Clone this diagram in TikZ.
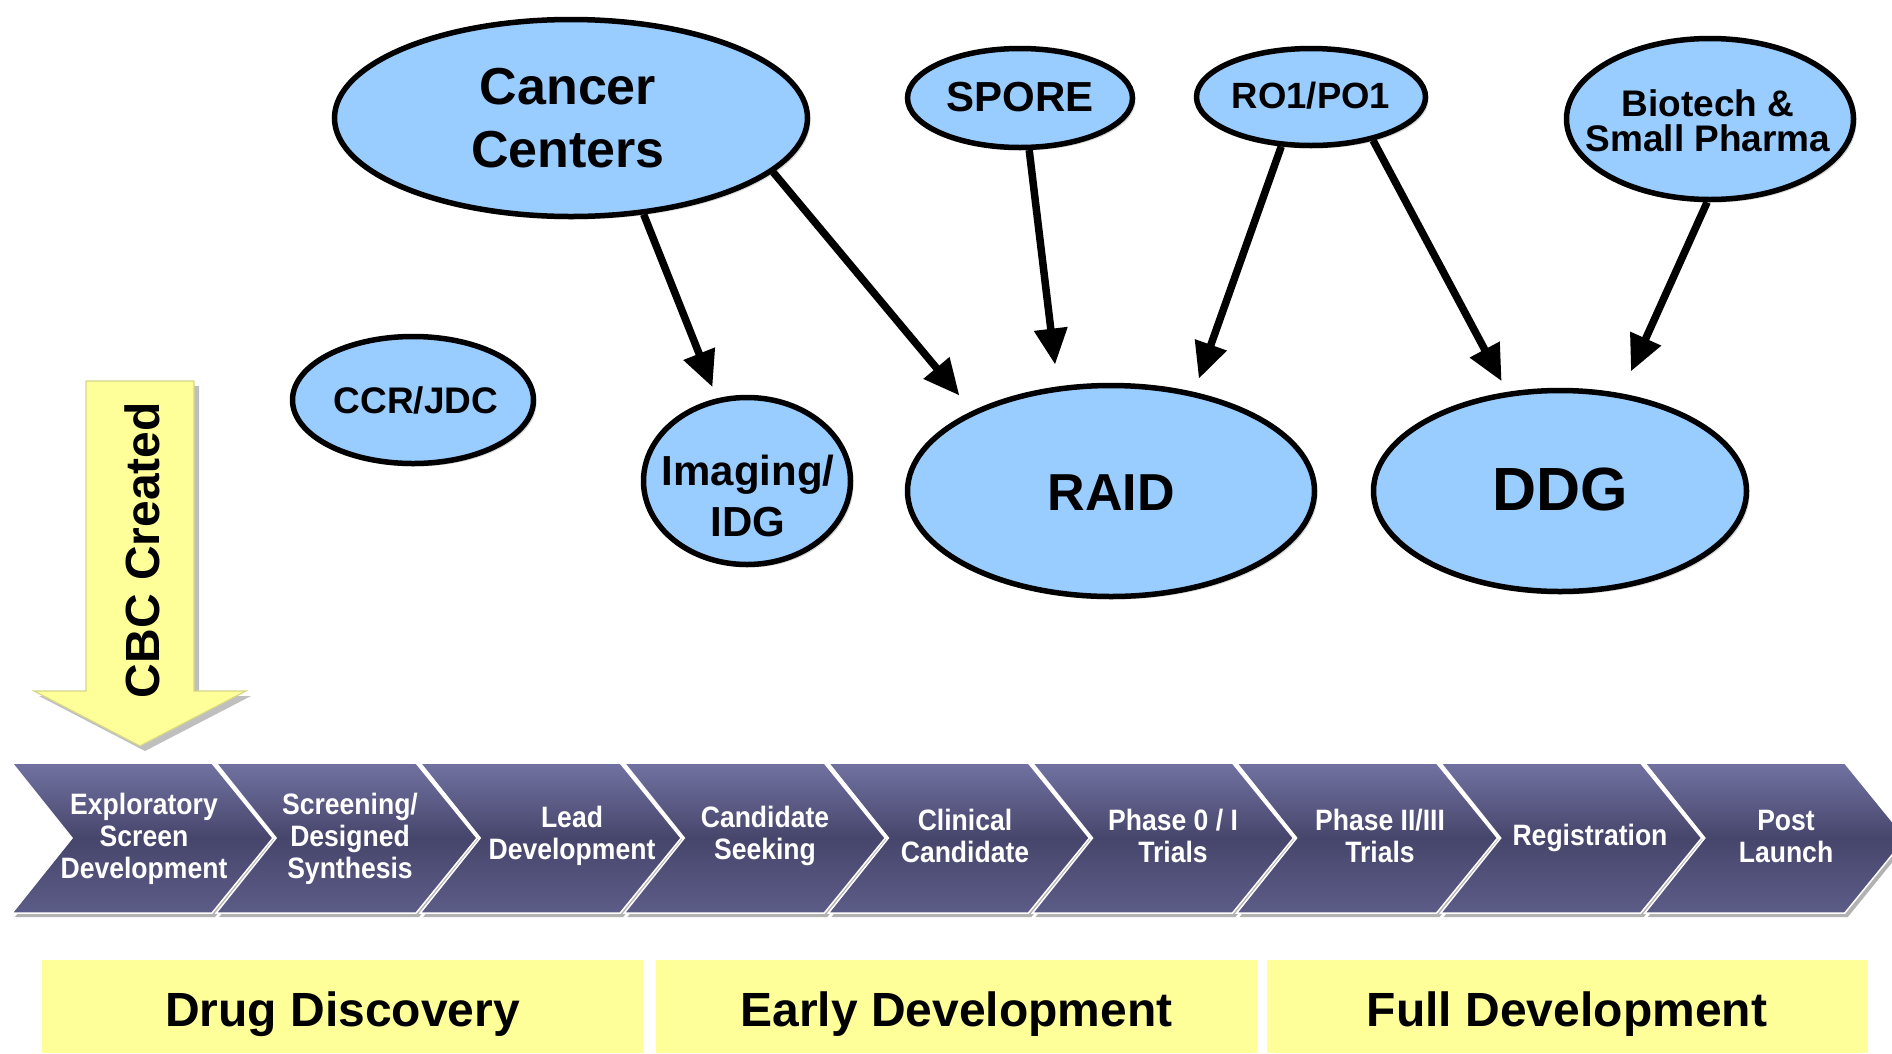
\documentclass[tikz,border=0pt]{standalone}
\usepackage{fontspec}
\setmainfont{Liberation Sans}
\newfontfamily\chevfont[FakeStretch=0.9]{Liberation Sans}
\usetikzlibrary{shapes.geometric,arrows.meta,shadows}
\definecolor{ellblue}{HTML}{99CCFF}
\definecolor{paleyel}{HTML}{FFFF99}
\definecolor{yelborder}{HTML}{D6D68A}
\definecolor{chevtop}{HTML}{7272A2}
\definecolor{chevmid}{HTML}{46466C}
\definecolor{chevbot}{HTML}{5C5C88}
\begin{document}
\begin{tikzpicture}[x=1pt,y=-1pt,
  ell/.style={ellipse, draw=black, line width=5.5pt, fill=ellblue, inner sep=0pt,
    drop shadow={shadow xshift=3pt,shadow yshift=-3pt,fill=black!30}},
  etext/.style={align=center, inner sep=0pt},
  arr/.style={line width=7.5pt, -{Triangle[length=36pt,width=32pt]}},
  chev/.style={top color=chevtop, bottom color=chevbot, middle color=chevmid, draw=white, line width=1.5pt},
  chevtext/.style={text=white, align=center, inner sep=0pt, font=\chevfont\bfseries\fontsize{29.5}{32}\selectfont},
  phase/.style={fill=paleyel, draw=none, minimum width=601pt, minimum height=93pt, inner sep=0pt,
    text height=39pt, text depth=0pt, font=\bfseries\fontsize{48}{50}\selectfont}
]
\useasboundingbox (0,0) rectangle (1892,1053);
\clip (0,0) rectangle (1892,1053);

% ---- yellow "CBC Created" arrow
\path[fill=black!25] (91,386) -- (199,386) -- (199,696) -- (251,696) -- (145,751) -- (39,696) -- (91,696) -- cycle;
\path[fill=paleyel, draw=yelborder, line width=1.2pt]
  (86,381) -- (194,381) -- (194,691) -- (246,691) -- (140,746) -- (34,691) -- (86,691) -- cycle;
\node[rotate=90, inner sep=0pt, font=\bfseries\fontsize{48}{50}\selectfont] (cbc) at (142,550) {CBC Created};

% ---- ellipses
\node[ell, minimum width=473pt, minimum height=197pt] (cc) at (571,118) {};
\node[ell, minimum width=225pt, minimum height=99pt] (spore) at (1020,98) {};
\node[ell, minimum width=229pt, minimum height=97pt] (ro) at (1311,97) {};
\node[ell, minimum width=287pt, minimum height=161pt] (bio) at (1710,119) {};
\node[ell, minimum width=241pt, minimum height=127pt] (ccr) at (413,400) {};
\node[ell, minimum width=207pt, minimum height=167pt] (img) at (747,481) {};
\node[ell, minimum width=407pt, minimum height=211pt] (raid) at (1111,491) {};
\node[ell, minimum width=373pt, minimum height=201pt] (ddg) at (1560,491) {};

\node[etext, font=\bfseries\fontsize{52}{63}\selectfont] (cct) at (568,118) {Cancer\\Centers};
\node[etext, font=\bfseries\fontsize{42}{46}\selectfont] (sporet) at (1020,97) {SPORE};
\node[etext, font=\bfseries\fontsize{36.5}{40}\selectfont] (rot) at (1311,96) {RO1/PO1};
\node[etext, font=\bfseries\fontsize{37}{35}\selectfont] (biot) at (1708,121) {Biotech \&\\Small Pharma};
\node[etext, font=\bfseries\fontsize{37}{40}\selectfont] (ccrt) at (416,400) {CCR/JDC};
\node[etext, font=\bfseries\fontsize{42}{51}\selectfont] (imgt) at (748,496) {Imaging/\\IDG};
\node[etext, font=\bfseries\fontsize{52}{56}\selectfont] (raidt) at (1111,493) {RAID};
\node[etext, font=\bfseries\fontsize{61}{64}\selectfont] (ddgt) at (1560,489) {DDG};

% ---- connectors
\draw[arr, shorten >=12pt] (cc.-53) -- (img.110);
\draw[arr, shorten >=20pt] (cc.-15) -- (raid.150);
\draw[arr, shorten >=22pt] (spore.-80) -- (raid.117);
\draw[arr, shorten >=14pt] (ro.-121) -- (raid.50);
\draw[arr, shorten >=12pt] (ro.-35) -- (ddg.118);
\draw[arr, shorten >=24pt] (bio.-92) -- (ddg.58);

% ---- process chevrons
\foreach \i/\tx/\ty/\txt in {0/144/839/{Exploratory\\Screen\\Development},1/350/839/{Screening/\\Designed\\Synthesis},
  2/572/836/{Lead\\Development},3/765/836/{Candidate\\Seeking},4/965/836/{Clinical\\Candidate},5/1173/836/{Phase 0 / I\\Trials},
  6/1380/836/{Phase II/III\\Trials},7/1590/838/{Registration},8/1786/836/{Post\\Launch}}{
  \pgfmathsetmacro{\L}{12+204.1*\i}
  \path[fill=black!30] (\L+3,767) -- ++(200,0) -- ++(61,75) -- ++(-61,75) -- ++(-200,0) -- ++(60,-75) -- cycle;
  \path[chev] (\L,763) -- ++(200,0) -- ++(61,75) -- ++(-61,75) -- ++(-200,0) -- ++(60,-75) -- cycle;
  \node[chevtext] (chev\i) at (\tx,\ty) {\txt};
}

% ---- phase boxes
\node[phase] (drug) at (342.5,1006.5) {Drug Discovery};
\node[phase] (early) at (956.5,1006.5) {Early Development};
\node[phase] (full) at (1567,1006.5) {Full Development};
\end{tikzpicture}
\end{document}
